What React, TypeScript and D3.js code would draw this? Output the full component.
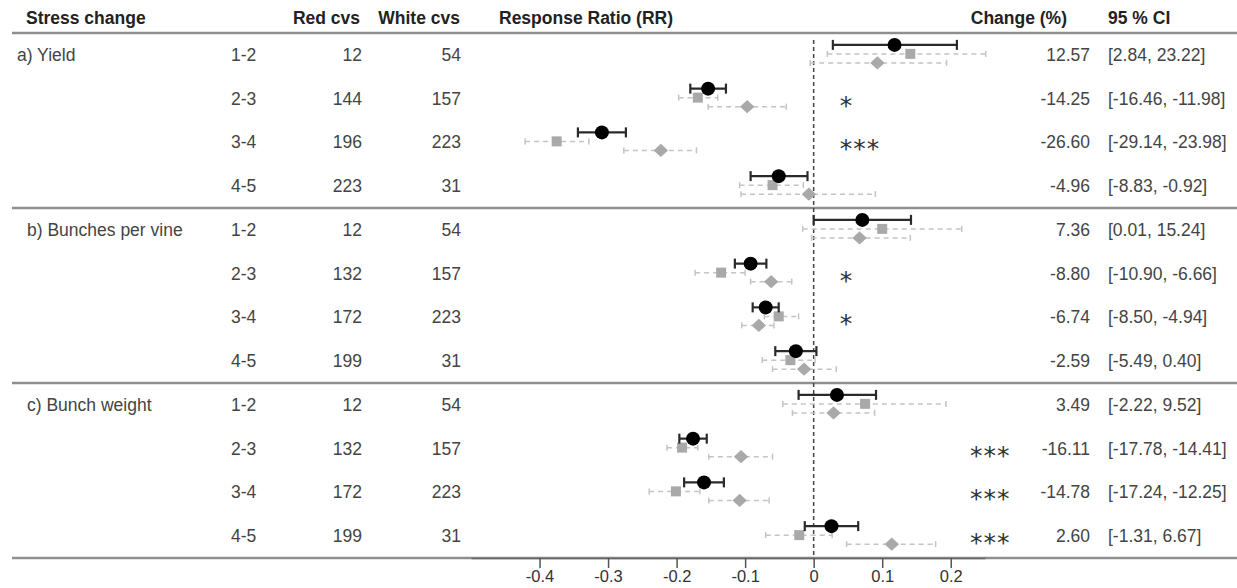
import { useEffect, useRef } from "react";
import * as d3 from "d3";

const groups = ["a) Yield", "b) Bunches per vine", "c) Bunch weight"];
const stressLevels = ["1-2", "2-3", "3-4", "4-5"];

const redCount = [12, 144, 196, 223, 12, 132, 172, 199, 12, 132, 172, 199];
const whiteCount = [54, 157, 223, 31, 54, 157, 223, 31, 54, 157, 223, 31];

const changePct = ["12.57", "-14.25", "-26.60", "-4.96", "7.36", "-8.80", "-6.74", "-2.59", "3.49", "-16.11", "-14.78", "2.60"];
const ciText = [
    "[2.84, 23.22]", "[-16.46, -11.98]", "[-29.14, -23.98]", "[-8.83, -0.92]",
    "[0.01, 15.24]", "[-10.90, -6.66]", "[-8.50, -4.94]", "[-5.49, 0.40]",
    "[-2.22, 9.52]", "[-17.78, -14.41]", "[-17.24, -12.25]", "[-1.31, 6.67]",
];

// all cultivars (black dots)
const rrAll = [0.118, -0.154, -0.309, -0.051, 0.071, -0.092, -0.070, -0.026, 0.034, -0.176, -0.160, 0.026];
const rrAllLo = [0.028, -0.180, -0.344, -0.092, 0.000, -0.115, -0.089, -0.056, -0.022, -0.196, -0.189, -0.013];
const rrAllHi = [0.209, -0.128, -0.274, -0.009, 0.142, -0.069, -0.051, 0.004, 0.091, -0.156, -0.131, 0.065];

// red cultivars (grey squares)
const rrRed = [0.141, -0.169, -0.375, -0.060, 0.100, -0.135, -0.051, -0.034, 0.075, -0.192, -0.201, -0.021];
const rrRedLo = [0.020, -0.197, -0.421, -0.108, -0.016, -0.173, -0.072, -0.075, -0.045, -0.214, -0.240, -0.070];
const rrRedHi = [0.251, -0.140, -0.328, -0.015, 0.216, -0.100, -0.022, 0.002, 0.193, -0.169, -0.166, 0.027];

// white cultivars (grey diamonds)
const rrWhite = [0.093, -0.097, -0.223, -0.007, 0.067, -0.062, -0.080, -0.014, 0.029, -0.106, -0.108, 0.114];
const rrWhiteLo = [-0.005, -0.154, -0.277, -0.106, -0.003, -0.092, -0.105, -0.060, -0.031, -0.153, -0.153, 0.048];
const rrWhiteHi = [0.194, -0.040, -0.171, 0.090, 0.141, -0.032, -0.058, 0.033, 0.089, -0.060, -0.065, 0.178];

const stars = ["", "*", "***", "", "", "*", "*", "", "", "***", "***", "***"];
const starPos = [0.038, 0.038, 0.228];

const xTicks = [-0.4, -0.3, -0.2, -0.1, 0, 0.1, 0.2];

const W = 1237;
const H = 588;

export default function App() {
    const svgRef = useRef<SVGSVGElement>(null);

    useEffect(() => {
        if (!svgRef.current) return;
        const svg = d3.select(svgRef.current);
        svg.selectAll("*").remove();

        const font = "Liberation Sans, Arial, sans-serif";
        const x = d3.scaleLinear().domain([-0.5, 0.25]).range([471, 985]);
        const nRows = groups.length * stressLevels.length;
        const y = d3.scaleLinear().domain([0, nRows]).range([33, 558]);
        const rowY = (i: number) => y(i + 0.5);

        // cabeçalho
        const header = svg.append("g")
            .style("font-family", font)
            .style("font-size", "17.5px")
            .style("font-weight", "bold")
            .style("fill", "#222");
        header.append("text").attr("x", 26).attr("y", 24).text("Stress change");
        header.append("text").attr("x", 360).attr("y", 24).attr("text-anchor", "end").text("Red cvs");
        header.append("text").attr("x", 460).attr("y", 24).attr("text-anchor", "end").text("White cvs");
        header.append("text").attr("x", 499).attr("y", 24).text("Response Ratio (RR)");
        header.append("text").attr("x", 1067).attr("y", 24).attr("text-anchor", "end").text("Change (%)");
        header.append("text").attr("x", 1108).attr("y", 24).text("95 % CI");

        // linhas horizontais
        const rules = [0, 4, 8, 12];
        svg.append("g")
            .selectAll("line")
            .data(rules)
            .join("line")
            .attr("x1", 12)
            .attr("x2", W)
            .attr("y1", (d) => y(d))
            .attr("y2", (d) => y(d))
            .attr("stroke", "#8f8f8f")
            .attr("stroke-width", 2.5);

        // linha do zero
        svg.append("line")
            .attr("x1", x(0)).attr("x2", x(0))
            .attr("y1", 40).attr("y2", y(nRows))
            .attr("stroke", "#444")
            .attr("stroke-width", 1.5)
            .attr("stroke-dasharray", "4,3");

        // tabela
        const table = svg.append("g")
            .style("font-family", font)
            .style("font-size", "17.5px")
            .style("fill", "#444");

        groups.forEach((g, gi) => {
            table.append("text")
                .attr("x", gi === 0 ? 17 : 27)
                .attr("y", rowY(gi * 4) + 6)
                .text(g);
        });

        const idx = d3.range(nRows);
        table.selectAll("text.lvl").data(idx).join("text").attr("class", "lvl")
            .attr("x", 231).attr("y", (i) => rowY(i) + 6)
            .text((i) => stressLevels[i % 4]);
        table.selectAll("text.red").data(idx).join("text").attr("class", "red")
            .attr("x", 362).attr("y", (i) => rowY(i) + 6).attr("text-anchor", "end")
            .text((i) => redCount[i]);
        table.selectAll("text.white").data(idx).join("text").attr("class", "white")
            .attr("x", 461).attr("y", (i) => rowY(i) + 6).attr("text-anchor", "end")
            .text((i) => whiteCount[i]);
        table.selectAll("text.chg").data(idx).join("text").attr("class", "chg")
            .attr("x", 1090).attr("y", (i) => rowY(i) + 6).attr("text-anchor", "end")
            .text((i) => changePct[i]);
        table.selectAll("text.ci").data(idx).join("text").attr("class", "ci")
            .attr("x", 1108).attr("y", (i) => rowY(i) + 6)
            .text((i) => ciText[i]);

        // asteriscos
        svg.append("g")
            .style("font-family", "DejaVu Sans, sans-serif")
            .style("font-size", "25px")
            .style("letter-spacing", "1px")
            .style("fill", "#333")
            .selectAll("text")
            .data(idx.filter((i) => stars[i]))
            .join("text")
            .attr("x", (i) => x(starPos[Math.floor(i / 4)]))
            .attr("y", (i) => rowY(i) + 15)
            .text((i) => stars[i]);

        // barras cinza (red: quadrados, white: losangos)
        const greyBars = [
            { lo: rrRedLo, hi: rrRedHi, dy: -1 },
            { lo: rrWhiteLo, hi: rrWhiteHi, dy: 8 },
        ];
        const plot = svg.append("g");
        greyBars.forEach((s) => {
            const gb = plot.append("g").attr("stroke", "#c4c4c4").attr("stroke-width", 1.5);
            gb.selectAll("line.ci").data(idx).join("line").attr("class", "ci")
                .attr("x1", (i) => x(s.lo[i])).attr("x2", (i) => x(s.hi[i]))
                .attr("y1", (i) => rowY(i) + s.dy).attr("y2", (i) => rowY(i) + s.dy)
                .attr("stroke-dasharray", "5,4");
            gb.selectAll("line.capL").data(idx).join("line").attr("class", "capL")
                .attr("x1", (i) => x(s.lo[i])).attr("x2", (i) => x(s.lo[i]))
                .attr("y1", (i) => rowY(i) + s.dy - 3).attr("y2", (i) => rowY(i) + s.dy + 3);
            gb.selectAll("line.capR").data(idx).join("line").attr("class", "capR")
                .attr("x1", (i) => x(s.hi[i])).attr("x2", (i) => x(s.hi[i]))
                .attr("y1", (i) => rowY(i) + s.dy - 3).attr("y2", (i) => rowY(i) + s.dy + 3);
        });

        plot.append("g").selectAll("rect").data(idx).join("rect")
            .attr("x", (i) => x(rrRed[i]) - 5)
            .attr("y", (i) => rowY(i) - 1 - 5)
            .attr("width", 10).attr("height", 10)
            .attr("fill", "#a9a9a9");

        const diamond = d3.symbol().type(d3.symbolDiamond2).size(110);
        plot.append("g").selectAll("path").data(idx).join("path")
            .attr("d", diamond as any)
            .attr("transform", (i) => `translate(${x(rrWhite[i])},${rowY(i) + 8}) scale(1.1,1)`)
            .attr("fill", "#a9a9a9");

        // barras pretas
        const bb = plot.append("g").attr("stroke", "#2a2a2a").attr("stroke-width", 2.2);
        bb.selectAll("line.ci").data(idx).join("line").attr("class", "ci")
            .attr("x1", (i) => x(rrAllLo[i])).attr("x2", (i) => x(rrAllHi[i]))
            .attr("y1", (i) => rowY(i) - 10).attr("y2", (i) => rowY(i) - 10);
        bb.selectAll("line.capL").data(idx).join("line").attr("class", "capL")
            .attr("x1", (i) => x(rrAllLo[i])).attr("x2", (i) => x(rrAllLo[i]))
            .attr("y1", (i) => rowY(i) - 15).attr("y2", (i) => rowY(i) - 5);
        bb.selectAll("line.capR").data(idx).join("line").attr("class", "capR")
            .attr("x1", (i) => x(rrAllHi[i])).attr("x2", (i) => x(rrAllHi[i]))
            .attr("y1", (i) => rowY(i) - 15).attr("y2", (i) => rowY(i) - 5);
        plot.append("g").selectAll("circle").data(idx).join("circle")
            .attr("cx", (i) => x(rrAll[i]))
            .attr("cy", (i) => rowY(i) - 10)
            .attr("r", 7)
            .attr("fill", "#000");

        // eixo x
        const axis = d3.axisBottom(x)
            .tickValues(xTicks)
            .tickSize(10)
            .tickSizeOuter(0)
            .tickFormat((d) => (d === 0 ? "0" : (d as number).toFixed(1)));
        const ax = svg.append("g")
            .attr("transform", `translate(0,${y(nRows)})`)
            .call(axis);
        ax.select(".domain").attr("stroke", "#666").attr("stroke-width", 1.5);
        ax.selectAll(".tick line").attr("stroke", "#555").attr("stroke-width", 1.5);
        ax.selectAll(".tick text")
            .attr("y", 12)
            .style("font-family", font)
            .style("font-size", "16.5px")
            .style("fill", "#333");
    }, []);

    return (
        <svg
            ref={svgRef}
            width={W}
            height={H}
            viewBox={`0 0 ${W} ${H}`}
            style={{ position: "absolute", left: 0, top: 0, background: "#fff" }}
        />
    );
}
